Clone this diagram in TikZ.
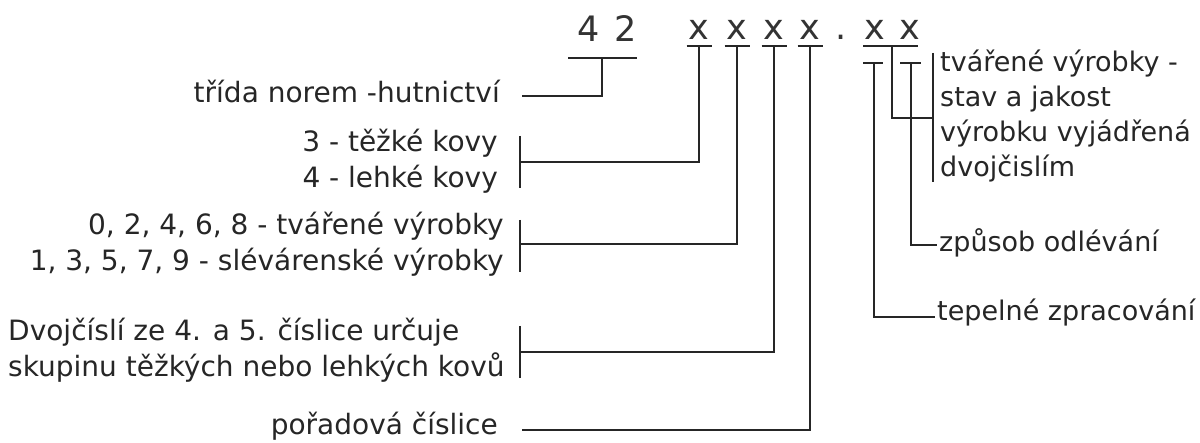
\documentclass[tikz,border=0pt]{standalone}
\usepackage{fontspec}
\setmainfont{DejaVu Sans}
\begin{document}
\begin{tikzpicture}[x=1pt,y=-1pt,
  lbl/.style={inner sep=0pt,text=black!85,font=\fontsize{28}{35}\selectfont},
  rlbl/.style={lbl,font=\fontsize{27}{35}\selectfont},
  code/.style={inner sep=0pt,text=black!80,font=\fontsize{35}{40}\selectfont},
  conn/.style={line width=2.5pt,draw=black!85},
]
\useasboundingbox[fill=white] (0,0) rectangle (1200,443);

% the code digits
\node[code,anchor=base] (n4) at (589,42) {4};
\node[code,anchor=base] (n2) at (626,42) {2};
\node[code,anchor=base] (x1) at (699,40) {x};
\node[code,anchor=base] (x2) at (737,40) {x};
\node[code,anchor=base] (x3) at (774,40) {x};
\node[code,anchor=base] (x4) at (810,40) {x};
\node[code,anchor=base] (dot) at (841,40) {.};
\node[code,anchor=base] (x5) at (875,40) {x};
\node[code,anchor=base] (x6) at (910,40) {x};

% left labels
\node[lbl,anchor=base east] (t42) at (500,103) {třída norem -hutnictví};
\node[lbl,anchor=base east] (k3) at (498,152) {3 - těžké kovy};
\node[lbl,anchor=base east] (k4) at (498,188) {4 - lehké kovy};
\node[lbl,anchor=base east] (v1) at (504,235) {0, 2, 4, 6, 8 - tvářené výrobky};
\node[lbl,anchor=base east] (v2) at (504,271) {1, 3, 5, 7, 9 - slévárenské výrobky};
\node[lbl,anchor=base west] (d1) at (8,341) {Dvojčíslí ze 4. a 5. číslice určuje};
\node[lbl,anchor=base west] (d2) at (8,377) {skupinu těžkých nebo lehkých kovů};
\node[lbl,anchor=base east] (po) at (498,435) {pořadová číslice};

% right labels
\node[rlbl,anchor=base west] (r1) at (940,72) {tvářené výrobky -};
\node[rlbl,anchor=base west] (r2) at (940,107) {stav a jakost};
\node[rlbl,anchor=base west] (r3) at (940,142) {výrobku vyjádřená};
\node[rlbl,anchor=base west] (r4) at (940,177) {dvojčislím};
\node[rlbl,anchor=base west] (zo) at (939,252) {způsob odlévání};
\node[rlbl,anchor=base west] (tz) at (937,321) {tepelné zpracování};

% junction coordinates
\coordinate (u42) at (602,58);
\coordinate (e42) at (522,96);
\coordinate (u1) at (699,46);
\coordinate (u2) at (737,46);
\coordinate (u3) at (774,46);
\coordinate (u4) at (810,46);
\coordinate (u56) at (892,46);
\coordinate (u5) at (874,63);
\coordinate (u6) at (911,63);
\coordinate (jk) at (520,162);
\coordinate (jv) at (520,244);
\coordinate (jd) at (520,352);
\coordinate (jp) at (522,430);
\coordinate (jr) at (933,118);
\coordinate (jz) at (937,245);
\coordinate (jt) at (935,317);

% underlines
\draw[conn] (568,58) -- (637,58);
\foreach \u in {u1,u2,u3,u4}
  \draw[conn] ([xshift=-12.5pt]\u) -- ([xshift=12.5pt]\u);
\draw[conn] (863,46) -- (918,46);
\draw[conn] ([xshift=-11pt]u5) -- ([xshift=9pt]u5);
\draw[conn] ([xshift=-11pt]u6) -- ([xshift=10pt]u6);

% brackets
\draw[conn] (520,136) -- (520,188);
\draw[conn] (520,220) -- (520,272);
\draw[conn] (520,326) -- (520,378);
\draw[conn] (933,53) -- (933,182);

% connectors
\draw[conn] (e42) -| (u42);
\draw[conn] (u1) |- (jk);
\draw[conn] (u2) |- (jv);
\draw[conn] (u3) |- (jd);
\draw[conn] (u4) |- (jp);
\draw[conn] (u56) |- (jr);
\draw[conn] (u6) |- (jz);
\draw[conn] (u5) |- (jt);
\end{tikzpicture}
\end{document}
